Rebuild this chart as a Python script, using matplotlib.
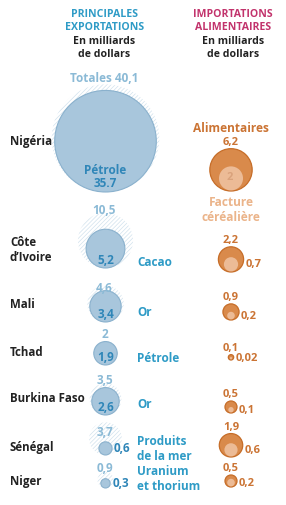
import matplotlib
matplotlib.use('Agg')
import numpy as np
import matplotlib.pyplot as plt
from matplotlib.patches import Circle

# --- données (milliards de dollars) ---
pays = ['Nigéria', 'Côte\nd’Ivoire', 'Mali', 'Tchad', 'Burkina Faso', 'Sénégal', 'Niger']
produits = ['Pétrole', 'Cacao', 'Or', 'Pétrole', 'Or', 'Produits\nde la mer', 'Uranium\net thorium']
export_total = [40.1, 10.5, 4.6, 2.0, 3.5, 3.7, 0.9]
export_principal = [35.7, 5.2, 3.4, 1.9, 2.6, 0.6, 0.3]
import_alim = [6.2, 2.2, 0.9, 0.1, 0.5, 1.9, 0.5]
import_cereales = [2.0, 0.7, 0.2, 0.02, 0.1, 0.6, 0.2]

total_lbl = ['Totales 40,1', '10,5', '4,6', '2', '3,5', '3,7', '0,9']
princ_lbl = ['Pétrole\n35.7', '5,2', '3,4', '1,9', '2,6', '0,6', '0,3']
alim_lbl = ['6,2', '2,2', '0,9', '0,1', '0,5', '1,9', '0,5']
cer_lbl = ['2', '0,7', '0,2', '0,02', '0,1', '0,6', '0,2']

# --- mise en page (pixels, y vers le bas) ---
K = 8.5                                   # rayon = K * sqrt(valeur)
X_EXP, X_IMP = 105.5, 231
BASE_EXP = [192, 268, 322, 365, 415, 455, 488]
BASE_IMP = [191, 272, 320, 360, 413, 457, 487]
Y_PAYS = [141, 250, 304, 352, 398, 448, 482]
Y_TOTAL = [78, 210, 288, 335, 380, 433, 468]
Y_PROD = [None, 262, 313, 359, 405, 449, 479]

BLEU = '#2e9bc6'
BLEU_TXT = '#2f86b8'
BLEU_PALE = '#8bbad6'
BLEU_FILL, BLEU_EDGE = '#a8c6dc', '#8ab1cd'
HACHURE = '#d2e2ed'
ROSE = '#c2336c'
ORANGE, ORANGE_EDGE = '#d98a4b', '#c66d28'
PECHE = '#ecbb96'
ORANGE_TXT = '#cb7434'
NOIR = '#222222'

plt.rcParams['font.family'] = ['Open Sans', 'DejaVu Sans']
plt.rcParams['hatch.linewidth'] = 0.5

fig = plt.figure(figsize=(2.86, 5.05), dpi=100)
ax = fig.add_axes([0, 0, 1, 1])
ax.set_xlim(0, 286)
ax.set_ylim(505, 0)
ax.set_aspect('equal')
ax.axis('off')

T = dict(fontweight='bold', ha='center', va='center')

# en-têtes
ax.text(X_EXP - 1, 21, 'PRINCIPALES\nEXPORTATIONS', color=BLEU, fontsize=7.6,
        linespacing=1.15, **T)
ax.text(X_EXP - 1, 48, 'En milliards\nde dollars', color=NOIR, fontsize=7.6,
        linespacing=1.2, **T)
ax.text(X_IMP + 2, 21, 'IMPORTATIONS\nALIMENTAIRES', color=ROSE, fontsize=7.6,
        linespacing=1.15, **T)
ax.text(X_IMP + 2, 48, 'En milliards\nde dollars', color=NOIR, fontsize=7.6,
        linespacing=1.2, **T)

for i in range(len(pays)):
    # --- exportations ---
    b = BASE_EXP[i]
    rt = K * np.sqrt(export_total[i])
    rp = K * np.sqrt(export_principal[i])
    ax.add_patch(Circle((X_EXP, b - rt), rt, facecolor='white', edgecolor=HACHURE,
                        hatch='////////', lw=0, zorder=1))
    ax.add_patch(Circle((X_EXP, b - rp), rp, facecolor=BLEU_FILL, edgecolor=BLEU_EDGE,
                        lw=0.8, zorder=2))
    ax.text(X_EXP - 1, Y_TOTAL[i], total_lbl[i], color=BLEU_PALE, fontsize=8.5, **T)
    if rp > 10:
        ax.text(X_EXP, b - 15 if i == 0 else b - 7.5, princ_lbl[i], color=BLEU_TXT,
                fontsize=8.5, zorder=3, linespacing=1.05, **T)
    else:
        ax.text(X_EXP + rp + 2, b - rp, princ_lbl[i], color=BLEU_TXT, fontsize=8.5,
                fontweight='bold', ha='left', va='center')
    if Y_PROD[i] is not None:
        ax.text(137, Y_PROD[i], produits[i], color=BLEU, fontsize=8.5, fontweight='bold',
                ha='left', va='center', linespacing=1.15)
    ax.text(10, Y_PAYS[i], pays[i], color=NOIR, fontsize=8.3, fontweight='bold',
            ha='left', va='center', linespacing=1.25)

    # --- importations ---
    b = BASE_IMP[i]
    ra = K * np.sqrt(import_alim[i])
    rc = K * np.sqrt(import_cereales[i])
    ax.add_patch(Circle((X_IMP, b - ra), ra, facecolor=ORANGE, edgecolor=ORANGE_EDGE,
                        lw=0.9, zorder=2))
    ax.add_patch(Circle((X_IMP, b - rc - 0.6), rc, facecolor=PECHE, edgecolor='none',
                        zorder=3))
    ax.text(X_IMP, b - 2 * ra - 6, alim_lbl[i], color=ORANGE_TXT, fontsize=8, **T)
    if i == 0:
        ax.text(X_IMP - 1, b - rc - 1, cer_lbl[i], color='#d9a27c', fontsize=8,
                zorder=4, **T)
    else:
        ax.text(X_IMP + ra + 2, b - rc, cer_lbl[i], color=ORANGE_TXT, fontsize=8,
                fontweight='bold', ha='left', va='center')

ax.text(X_IMP, 129, 'Alimentaires', color=ORANGE_TXT, fontsize=8.6, **T)
ax.text(X_IMP, 210, 'Facture\ncéréalière', color='#ebb48a', fontsize=8.6,
        linespacing=1.15, **T)

fig.savefig('out.png', dpi=100, facecolor='white')
